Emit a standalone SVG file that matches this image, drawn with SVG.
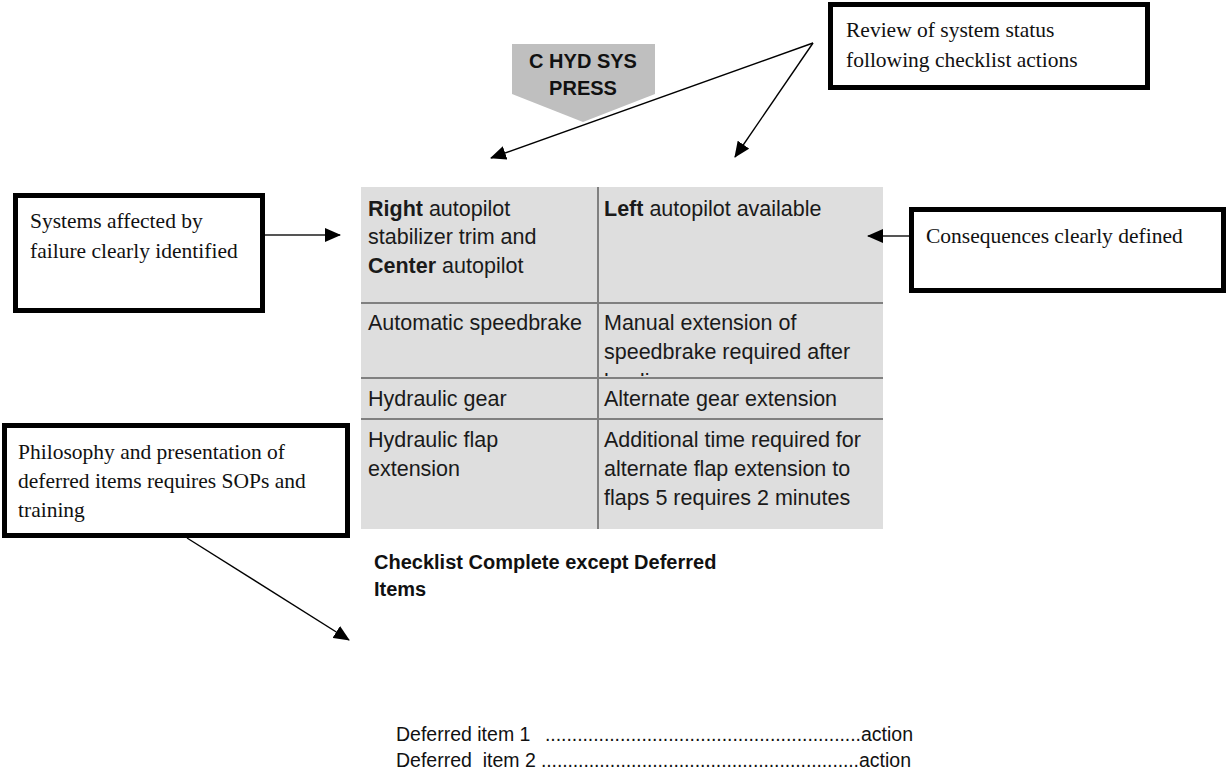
<svg xmlns="http://www.w3.org/2000/svg" width="1227" height="775" viewBox="0 0 1227 775">
  <style>
    .note { fill: #ffffff; stroke: #000000; stroke-width: 5; }
    .serif { font-family: "Liberation Serif", "Times New Roman", serif; font-size: 21.5px; fill: #111111; }
    .cell { font-family: "Liberation Sans", Arial, sans-serif; font-size: 21.5px; fill: #1a1a1a; }
    .bold { font-weight: bold; }
    .grid { stroke: #808080; stroke-width: 2; fill: none; }
    .link { stroke: #000000; stroke-width: 1.4; fill: none; }
    .link-grey { stroke: #555555; stroke-width: 2; fill: none; }
    .plain { font-family: "Liberation Sans", Arial, sans-serif; font-size: 19.5px; fill: #111111; }
  </style>
  <defs>
    <marker id="head" markerUnits="userSpaceOnUse" markerWidth="16" markerHeight="14" refX="15" refY="7" orient="auto">
      <path d="M0,0 L16,7 L0,14 Z" fill="#000000"/>
    </marker>
    <!-- third line of the speedbrake cell runs past the row and is cut off -->
    <clipPath id="row2clip">
      <rect x="598" y="303" width="285" height="73"/>
    </clipPath>
  </defs>

  <rect width="1227" height="775" fill="#ffffff"/>

  <!-- banner: failed system -->
  <g id="banner">
    <polygon points="512,44 655,44 655,94 583,122 512,94" fill="#bfbfbf"/>
    <text x="583" y="68" text-anchor="middle" font-family="Liberation Sans, Arial, sans-serif" font-weight="bold" font-size="20" fill="#111111">C HYD SYS</text>
    <text x="583" y="95" text-anchor="middle" font-family="Liberation Sans, Arial, sans-serif" font-weight="bold" font-size="20" fill="#111111">PRESS</text>
  </g>

  <!-- callout notes -->
  <g id="note-review">
    <rect class="note" x="830.5" y="4.5" width="317" height="83"/>
    <text class="serif" x="846" y="37">Review of system status</text>
    <text class="serif" x="846" y="67">following checklist actions</text>
  </g>

  <g id="note-systems">
    <rect class="note" x="15.5" y="195.5" width="247" height="115"/>
    <text class="serif" x="30" y="228">Systems affected by</text>
    <text class="serif" x="30" y="258">failure clearly identified</text>
  </g>

  <g id="note-consequences">
    <rect class="note" x="911.5" y="209.5" width="312" height="81"/>
    <text class="serif" x="926" y="243">Consequences clearly defined</text>
  </g>

  <g id="note-philosophy">
    <rect class="note" x="4.5" y="425.5" width="343" height="110"/>
    <text class="serif" x="18" y="459">Philosophy and presentation of</text>
    <text class="serif" x="18" y="488">deferred items requires SOPs and</text>
    <text class="serif" x="18" y="517">training</text>
  </g>

  <!-- status table -->
  <g id="status-table">
    <rect x="361" y="187" width="522" height="342" fill="#dedede"/>
    <line class="grid" x1="598" y1="187" x2="598" y2="529"/>
    <line class="grid" x1="361" y1="303" x2="883" y2="303"/>
    <line class="grid" x1="361" y1="378" x2="883" y2="378"/>
    <line class="grid" x1="361" y1="419" x2="883" y2="419"/>

    <text class="cell" x="368" y="216"><tspan class="bold">Right</tspan> autopilot</text>
    <text class="cell" x="368" y="244">stabilizer trim and</text>
    <text class="cell" x="368" y="273"><tspan class="bold">Center</tspan> autopilot</text>
    <text class="cell" x="604" y="216"><tspan class="bold">Left</tspan> autopilot available</text>

    <text class="cell" x="368" y="330">Automatic speedbrake</text>
    <text class="cell" x="604" y="330">Manual extension of</text>
    <text class="cell" x="604" y="359">speedbrake required after</text>
    <text class="cell" x="604" y="389" clip-path="url(#row2clip)">landing</text>

    <text class="cell" x="368" y="406">Hydraulic gear</text>
    <text class="cell" x="604" y="406">Alternate gear extension</text>

    <text class="cell" x="368" y="447">Hydraulic flap</text>
    <text class="cell" x="368" y="476">extension</text>
    <text class="cell" x="604" y="447">Additional time required for</text>
    <text class="cell" x="604" y="476">alternate flap extension to</text>
    <text class="cell" x="604" y="505">flaps 5 requires 2 minutes</text>
  </g>

  <g id="checklist-status">
    <text x="374" y="569" font-family="Liberation Sans, Arial, sans-serif" font-weight="bold" font-size="20" fill="#111111">Checklist Complete except Deferred</text>
    <text x="374" y="596" font-family="Liberation Sans, Arial, sans-serif" font-weight="bold" font-size="20" fill="#111111">Items</text>
  </g>

  <g id="deferred-items">
    <text class="plain" x="396" y="741">Deferred item 1</text>
    <text class="plain" x="545" y="741" textLength="316" lengthAdjust="spacing">...........................................................</text>
    <text class="plain" x="913" y="741" text-anchor="end">action</text>
    <text class="plain" x="396" y="767" xml:space="preserve">Deferred  item 2</text>
    <text class="plain" x="541" y="767" textLength="318" lengthAdjust="spacing">............................................................</text>
    <text class="plain" x="911" y="767" text-anchor="end">action</text>
  </g>

  <!-- connectors -->
  <g id="connectors">
    <line class="link" x1="813" y1="43" x2="491" y2="158" marker-end="url(#head)"/>
    <line class="link" x1="813" y1="43" x2="735" y2="157" marker-end="url(#head)"/>
    <line class="link-grey" x1="265" y1="235" x2="340" y2="235" marker-end="url(#head)"/>
    <line class="link-grey" x1="909" y1="236" x2="868" y2="236" marker-end="url(#head)"/>
    <line class="link" x1="187" y1="538" x2="349" y2="640" marker-end="url(#head)"/>
  </g>
</svg>
